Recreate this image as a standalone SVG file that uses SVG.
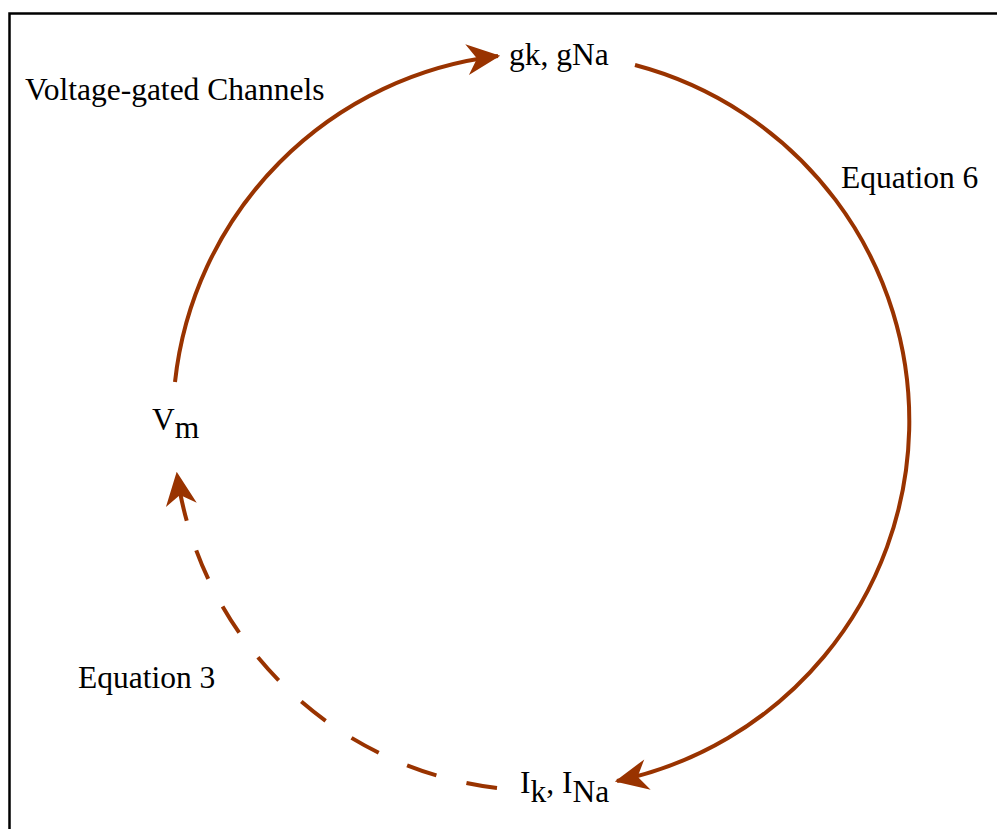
<svg xmlns="http://www.w3.org/2000/svg" width="997" height="829" viewBox="0 0 997 829">
<style>
.lbl{font-family:"Liberation Serif","Times New Roman",serif;font-size:31.5px;fill:#000}
.arc{fill:none;stroke:#993300;stroke-width:4}
</style>
<defs>
<marker id="ah" markerUnits="userSpaceOnUse" markerWidth="40" markerHeight="40" viewBox="-32 -16 36 32" refX="0" refY="0" orient="auto">
<path d="M2,0 L-28,-14 L-19,0 L-28,14 Z" fill="#993300"/>
</marker>
</defs>
<rect width="997" height="829" fill="#fff"/>
<path d="M9.5,829 V13.5 H997" fill="none" stroke="#000" stroke-width="2.5"/>
<g id="connectors">
<path class="arc" d="M175,382 A368,368 0 0 1 498,56" marker-end="url(#ah)"/>
<path class="arc" d="M635,65 A368,368 0 0 1 617,781" marker-end="url(#ah)"/>
<path class="arc" d="M497,788 A368,368 0 0 1 177,474" stroke-dasharray="31 31" marker-end="url(#ah)"/>
</g>
<g id="gk"><text class="lbl" x="509" y="65">gk, gNa</text></g>
<g id="vm"><text class="lbl" x="152" y="430">V<tspan dy="8">m</tspan></text></g>
<g id="ik"><text class="lbl" x="520" y="793">I<tspan dy="9">k</tspan><tspan dy="-9">, I</tspan><tspan dy="9">Na</tspan></text></g>
<g id="lbl-vgc"><text class="lbl" x="25" y="100">Voltage-gated Channels</text></g>
<g id="lbl-eq6"><text class="lbl" x="841" y="188">Equation 6</text></g>
<g id="lbl-eq3"><text class="lbl" x="78" y="688">Equation 3</text></g>
</svg>
